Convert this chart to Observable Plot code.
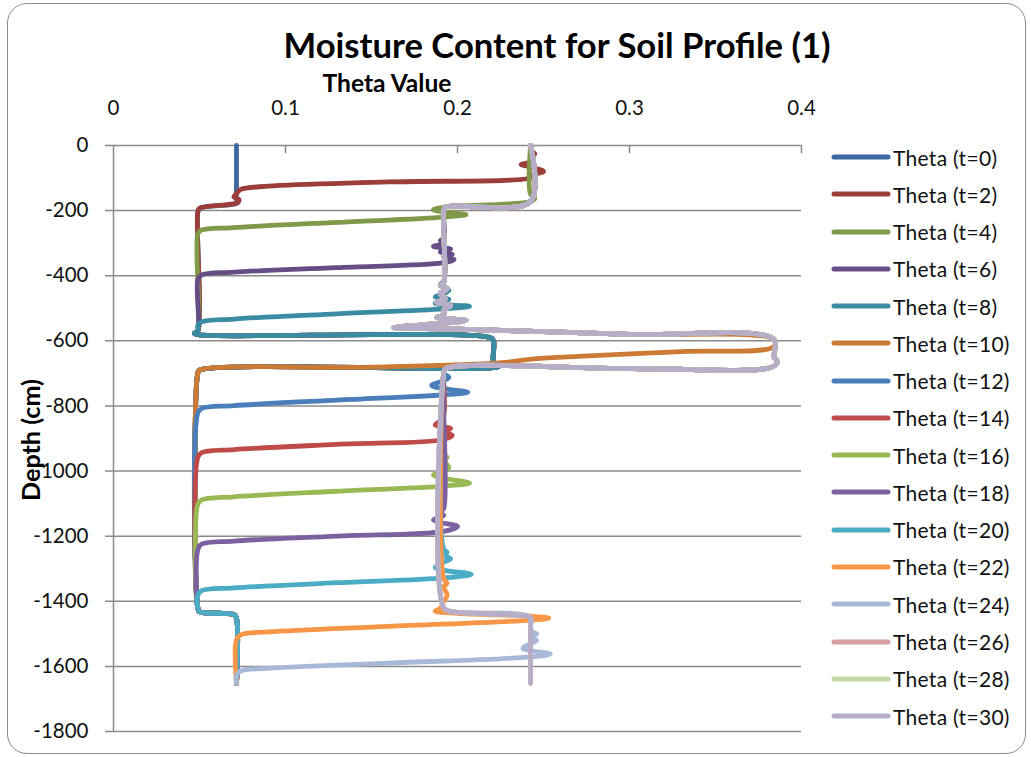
<!DOCTYPE html>
<html><head><meta charset="utf-8">
<script src="https://cdn.jsdelivr.net/npm/d3@7"></script>
<script src="https://cdn.jsdelivr.net/npm/@observablehq/plot@0.6"></script>
<style>
body{margin:0;background:#fff;font-family:Lato,sans-serif;}
#wrap{position:relative;width:1031px;height:757px;overflow:hidden;background:#fff;}
#frame{position:absolute;left:7px;top:3px;width:1019px;height:751px;border:1.5px solid #8c8c8c;border-radius:20px;box-sizing:border-box;}
#chart{position:absolute;left:0;top:0;}
.t{position:absolute;white-space:nowrap;font-weight:bold;color:#000;line-height:1;font-family:Lato,sans-serif;}
#legend{position:absolute;left:831px;top:0;}
.row{position:absolute;left:0;height:24px;display:flex;align-items:center;font-size:21px;letter-spacing:0.3px;color:#111;white-space:nowrap;font-family:Lato,sans-serif;}
</style></head><body>
<div id="wrap">
<div id="frame"></div>
<div id="chart"></div>
<div class="t" id="title"></div>
<div class="t" id="xlab"></div>
<div class="t" id="ylab"></div>
<div id="legend"></div>
</div>
<script>
const titleText = "Moisture Content for Soil Profile (1)";
const xLabel = "Theta Value";
const yLabel = "Depth (cm)";
const xTicks = [0, 0.1, 0.2, 0.3, 0.4];
const yTicks = [0, -200, -400, -600, -800, -1000, -1200, -1400, -1600, -1800];
const seriesNames = ["Theta (t=0)","Theta (t=2)","Theta (t=4)","Theta (t=6)","Theta (t=8)","Theta (t=10)","Theta (t=12)","Theta (t=14)","Theta (t=16)","Theta (t=18)","Theta (t=20)","Theta (t=22)","Theta (t=24)","Theta (t=26)","Theta (t=28)","Theta (t=30)"];
const seriesColors = ["#3D69A0","#9D3D3A","#7F9A48","#664D86","#3A8CA3","#CC7A34","#4A7EBB","#BE4B48","#98B954","#7D60A0","#4BACC6","#F79646","#A7B9D7","#D7A09F","#C4D6A4","#B7ADC9"];

// [theta, depth (cm)]
const t0 = [[0.0715,0],[0.0715,-120],[0.0715,-165],[0.072,-176],[0.05,-193],[0.049,-205],[0.049,-570],[0.047,-577],[0.05,-582],[0.219,-590],[0.221,-600],[0.221,-670],[0.224,-679],[0.05,-690],[0.049,-700],[0.049,-1420],[0.05,-1432],[0.07,-1441],[0.0715,-1452],[0.0715,-1652]];
const t2 = [[0.2425,0],[0.2425,-15],[0.245,-25],[0.2425,-35],[0.2425,-50],[0.237,-58],[0.2425,-66],[0.25,-80],[0.2425,-92],[0.2425,-98],[0.16,-112],[0.09,-125],[0.074,-135],[0.0715,-148],[0.07,-158],[0.073,-166],[0.072,-176],[0.05,-193],[0.049,-205],[0.049,-570],[0.047,-577],[0.05,-582],[0.219,-590],[0.221,-600],[0.221,-670],[0.224,-679],[0.05,-690],[0.049,-700],[0.049,-1420],[0.05,-1432],[0.07,-1441],[0.0715,-1452],[0.0715,-1652]];
const t4 = [[0.2425,0],[0.2425,-150],[0.245,-162],[0.2425,-172],[0.193,-189],[0.186,-197],[0.192,-204],[0.205,-212],[0.192,-220],[0.13,-236],[0.07,-252],[0.051,-260],[0.049,-272],[0.049,-570],[0.047,-577],[0.05,-582],[0.219,-590],[0.221,-600],[0.221,-670],[0.224,-679],[0.05,-690],[0.049,-700],[0.049,-1420],[0.05,-1432],[0.07,-1441],[0.0715,-1452],[0.0715,-1652]];
const t6 = [[0.2425,0],[0.2425,-172],[0.193,-189],[0.192,-200],[0.192,-285],[0.19,-292],[0.192,-300],[0.186,-310],[0.196,-318],[0.19,-327],[0.197,-335],[0.192,-342],[0.198,-350],[0.192,-360],[0.13,-375],[0.07,-389],[0.051,-398],[0.049,-412],[0.049,-570],[0.047,-577],[0.05,-582],[0.219,-590],[0.221,-600],[0.221,-670],[0.224,-679],[0.05,-690],[0.049,-700],[0.049,-1420],[0.05,-1432],[0.07,-1441],[0.0715,-1452],[0.0715,-1652]];
const t8 = [[0.2425,0],[0.2425,-172],[0.193,-189],[0.192,-200],[0.192,-418],[0.19,-425],[0.192,-432],[0.195,-445],[0.192,-455],[0.187,-465],[0.195,-472],[0.187,-485],[0.207,-494],[0.192,-502],[0.13,-517],[0.07,-533],[0.051,-542],[0.049,-553],[0.049,-570],[0.047,-577],[0.05,-582],[0.219,-590],[0.221,-600],[0.221,-670],[0.224,-679],[0.05,-690],[0.049,-700],[0.049,-1420],[0.05,-1432],[0.07,-1441],[0.0715,-1452],[0.0715,-1652]];
const t10 = [[0.2425,0],[0.2425,-172],[0.193,-189],[0.192,-200],[0.192,-420],[0.19,-430],[0.194,-440],[0.19,-455],[0.193,-470],[0.188,-482],[0.196,-492],[0.192,-505],[0.192,-520],[0.188,-528],[0.205,-537],[0.192,-546],[0.17,-555],[0.163,-560],[0.2,-564],[0.3,-580],[0.384,-596],[0.384,-618],[0.33,-633],[0.27,-648],[0.243,-656],[0.226,-667],[0.15,-681],[0.05,-690],[0.049,-700],[0.049,-1420],[0.05,-1432],[0.07,-1441],[0.0715,-1452],[0.0715,-1652]];
const t12 = [[0.2425,0],[0.2425,-172],[0.193,-189],[0.192,-200],[0.192,-420],[0.19,-430],[0.194,-440],[0.19,-455],[0.193,-470],[0.188,-482],[0.196,-492],[0.192,-505],[0.192,-520],[0.188,-528],[0.205,-537],[0.192,-546],[0.17,-555],[0.163,-560],[0.2,-564],[0.3,-580],[0.384,-596],[0.384,-650],[0.386,-665],[0.382,-682],[0.3,-685],[0.193,-686],[0.192,-700],[0.195,-712],[0.192,-722],[0.185,-737],[0.192,-747],[0.206,-758],[0.192,-766],[0.13,-782],[0.07,-799],[0.051,-808],[0.049,-822],[0.049,-1420],[0.05,-1432],[0.07,-1441],[0.0715,-1452],[0.0715,-1652]];
const t14 = [[0.2425,0],[0.2425,-172],[0.193,-189],[0.192,-200],[0.192,-420],[0.19,-430],[0.194,-440],[0.19,-455],[0.193,-470],[0.188,-482],[0.196,-492],[0.192,-505],[0.192,-520],[0.188,-528],[0.205,-537],[0.192,-546],[0.17,-555],[0.163,-560],[0.2,-564],[0.3,-580],[0.384,-596],[0.384,-650],[0.386,-665],[0.382,-682],[0.3,-685],[0.193,-686],[0.192,-700],[0.192,-825],[0.19,-832],[0.192,-840],[0.187,-858],[0.196,-869],[0.192,-880],[0.197,-890],[0.192,-903],[0.13,-918],[0.07,-934],[0.051,-944],[0.049,-958],[0.049,-1420],[0.05,-1432],[0.07,-1441],[0.0715,-1452],[0.0715,-1652]];
const t16 = [[0.2425,0],[0.2425,-172],[0.193,-189],[0.192,-200],[0.192,-420],[0.19,-430],[0.194,-440],[0.19,-455],[0.193,-470],[0.188,-482],[0.196,-492],[0.192,-505],[0.192,-520],[0.188,-528],[0.205,-537],[0.192,-546],[0.17,-555],[0.163,-560],[0.2,-564],[0.3,-580],[0.384,-596],[0.384,-650],[0.386,-665],[0.382,-682],[0.3,-685],[0.193,-686],[0.192,-700],[0.192,-950],[0.194,-958],[0.192,-966],[0.195,-989],[0.192,-1000],[0.186,-1012],[0.192,-1022],[0.207,-1037],[0.192,-1046],[0.13,-1062],[0.07,-1079],[0.051,-1089],[0.049,-1102],[0.049,-1420],[0.05,-1432],[0.07,-1441],[0.0715,-1452],[0.0715,-1652]];
const t18 = [[0.2425,0],[0.2425,-172],[0.193,-189],[0.192,-200],[0.192,-420],[0.19,-430],[0.194,-440],[0.19,-455],[0.193,-470],[0.188,-482],[0.196,-492],[0.192,-505],[0.192,-520],[0.188,-528],[0.205,-537],[0.192,-546],[0.17,-555],[0.163,-560],[0.2,-564],[0.3,-580],[0.384,-596],[0.384,-650],[0.386,-665],[0.382,-682],[0.3,-685],[0.193,-686],[0.192,-700],[0.192,-1115],[0.19,-1127],[0.192,-1136],[0.186,-1150],[0.19,-1158],[0.2,-1170],[0.192,-1185],[0.13,-1200],[0.07,-1215],[0.051,-1225],[0.049,-1242],[0.049,-1420],[0.05,-1432],[0.07,-1441],[0.0715,-1452],[0.0715,-1652]];
const t20 = [[0.2425,0],[0.2425,-172],[0.193,-189],[0.192,-200],[0.192,-420],[0.19,-430],[0.194,-440],[0.19,-455],[0.193,-470],[0.188,-482],[0.196,-492],[0.192,-505],[0.192,-520],[0.188,-528],[0.205,-537],[0.192,-546],[0.17,-555],[0.163,-560],[0.2,-564],[0.3,-580],[0.384,-596],[0.384,-650],[0.386,-665],[0.382,-682],[0.3,-685],[0.193,-686],[0.192,-700],[0.192,-1240],[0.194,-1250],[0.192,-1258],[0.196,-1269],[0.192,-1280],[0.187,-1296],[0.192,-1305],[0.208,-1317],[0.192,-1328],[0.13,-1343],[0.07,-1359],[0.051,-1368],[0.049,-1382],[0.049,-1420],[0.05,-1432],[0.07,-1441],[0.0715,-1452],[0.0715,-1652]];
const t22 = [[0.2425,0],[0.2425,-172],[0.193,-189],[0.192,-200],[0.192,-420],[0.19,-430],[0.194,-440],[0.19,-455],[0.193,-470],[0.188,-482],[0.196,-492],[0.192,-505],[0.192,-520],[0.188,-528],[0.205,-537],[0.192,-546],[0.17,-555],[0.163,-560],[0.2,-564],[0.3,-580],[0.384,-596],[0.384,-650],[0.386,-665],[0.382,-682],[0.3,-685],[0.193,-686],[0.192,-700],[0.192,-1330],[0.194,-1345],[0.192,-1355],[0.194,-1382],[0.192,-1400],[0.19,-1422],[0.187,-1430],[0.2,-1437],[0.243,-1446],[0.253,-1452],[0.2425,-1458],[0.16,-1477],[0.09,-1494],[0.074,-1503],[0.0715,-1518],[0.0715,-1652]];
const t24 = [[0.2425,0],[0.2425,-172],[0.193,-189],[0.192,-200],[0.192,-420],[0.19,-430],[0.194,-440],[0.19,-455],[0.193,-470],[0.188,-482],[0.196,-492],[0.192,-505],[0.192,-520],[0.188,-528],[0.205,-537],[0.192,-546],[0.17,-555],[0.163,-560],[0.2,-564],[0.3,-580],[0.384,-596],[0.384,-650],[0.386,-665],[0.382,-682],[0.3,-685],[0.193,-686],[0.192,-700],[0.192,-1420],[0.197,-1432],[0.2425,-1450],[0.2425,-1490],[0.246,-1500],[0.2425,-1508],[0.246,-1520],[0.2425,-1530],[0.238,-1545],[0.2425,-1552],[0.254,-1562],[0.2425,-1571],[0.16,-1590],[0.09,-1606],[0.074,-1614],[0.0715,-1628],[0.0715,-1652]];
const t26 = [[0.2425,0],[0.2425,-172],[0.193,-189],[0.192,-200],[0.192,-420],[0.19,-430],[0.194,-440],[0.19,-455],[0.193,-470],[0.188,-482],[0.196,-492],[0.192,-505],[0.192,-520],[0.188,-528],[0.205,-537],[0.192,-546],[0.17,-555],[0.163,-560],[0.2,-564],[0.3,-580],[0.384,-596],[0.384,-650],[0.386,-665],[0.382,-682],[0.3,-685],[0.193,-686],[0.192,-700],[0.192,-1420],[0.197,-1432],[0.2425,-1450],[0.2425,-1460],[0.2425,-1652]];
const t28 = [[0.2425,0],[0.2425,-172],[0.193,-189],[0.192,-200],[0.192,-420],[0.19,-430],[0.194,-440],[0.19,-455],[0.193,-470],[0.188,-482],[0.196,-492],[0.192,-505],[0.192,-520],[0.188,-528],[0.205,-537],[0.192,-546],[0.17,-555],[0.163,-560],[0.2,-564],[0.3,-580],[0.384,-596],[0.384,-650],[0.386,-665],[0.382,-682],[0.3,-685],[0.193,-686],[0.192,-700],[0.192,-1420],[0.197,-1432],[0.2425,-1450],[0.2425,-1460],[0.2425,-1652]];
const t30 = [[0.2425,0],[0.2425,-172],[0.193,-189],[0.192,-200],[0.192,-420],[0.19,-430],[0.194,-440],[0.19,-455],[0.193,-470],[0.188,-482],[0.196,-492],[0.192,-505],[0.192,-520],[0.188,-528],[0.205,-537],[0.192,-546],[0.17,-555],[0.163,-560],[0.2,-564],[0.3,-580],[0.384,-596],[0.384,-650],[0.386,-665],[0.382,-682],[0.3,-685],[0.193,-686],[0.192,-700],[0.192,-1420],[0.197,-1432],[0.2425,-1450],[0.2425,-1460],[0.2425,-1652]];
const seriesData = [t0,t2,t4,t6,t8,t10,t12,t14,t16,t18,t20,t22,t24,t26,t28,t30];

const gridColor = "#8a8a8a";
const lineMarks = seriesData.map((arr, i) => Plot.line(arr, {
  x: d => d[0], y: d => d[1], stroke: seriesColors[i], strokeWidth: 4.8,
  curve: "catmull-rom", strokeLinecap: "round", strokeLinejoin: "round"
}));

const chart = Plot.plot({
  width: 830, height: 757,
  marginLeft: 113, marginRight: 29, marginTop: 145, marginBottom: 26,
  x: {domain: [0, 0.4], axis: null},
  y: {domain: [-1800, 0], axis: null},
  style: {fontFamily: "Lato, sans-serif", fontSize: "20px", background: "transparent", overflow: "visible", color: "#111"},
  marks: [
    Plot.ruleY(yTicks, {x1: -0.00465, x2: 0.4, stroke: gridColor, strokeWidth: 1.5}),
    Plot.ruleX([0], {y1: -1800, y2: 0, stroke: gridColor, strokeWidth: 1.5}),
    Plot.ruleX(xTicks.slice(1), {y1: 0, y2: -25, stroke: gridColor, strokeWidth: 1.5}),
    Plot.text(xTicks, {x: d => d, y: 0, dy: -37, text: d => String(d), fontSize: 20.5, fill: "#111"}),
    Plot.text(yTicks, {x: 0, y: d => d, dx: -25, textAnchor: "end", text: d => String(d), fontSize: 20.5, fill: "#111"}),
    ...lineMarks
  ]
});
document.getElementById("chart").appendChild(chart);

function fitSize(text, target) {
  const c = document.createElement("canvas").getContext("2d");
  c.font = "bold 100px Lato";
  return 100 * target / c.measureText(text).width;
}
function place(id, text, cx, cy, target, rot) {
  const el = document.getElementById(id);
  el.textContent = text;
  el.style.fontSize = fitSize(text, target) + "px";
  el.style.left = cx + "px";
  el.style.top = cy + "px";
  el.style.transform = "translate(-50%,-50%)" + (rot ? " rotate(-90deg)" : "");
}
place("title", titleText, 557, 45, 548, false);
place("xlab", xLabel, 387, 83, 130, false);
place("ylab", yLabel, 31, 440, 122, true);

const legend = document.getElementById("legend");
seriesNames.forEach((name, i) => {
  const row = document.createElement("div");
  row.className = "row";
  row.style.top = (157 + i * 37.27 - 12) + "px";
  row.innerHTML = `<svg width="60" height="10" style="margin-right:2px"><line x1="3" y1="5" x2="57" y2="5" stroke="${seriesColors[i]}" stroke-width="5" stroke-linecap="round"/></svg><span>${name}</span>`;
  legend.appendChild(row);
});
</script>
</body></html>
